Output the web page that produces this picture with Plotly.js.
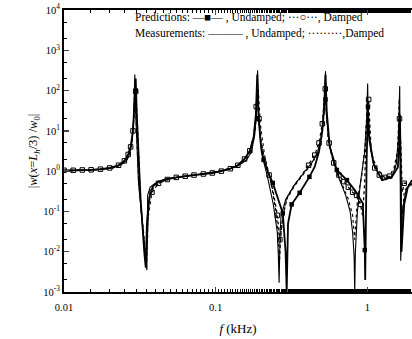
<!DOCTYPE html>
<html><head><meta charset="utf-8">
<script src="https://cdn.plot.ly/plotly-3.0.1.min.js"></script>
<style>html,body{margin:0;padding:0;background:#fff}#chart{width:412px;height:339px}</style>
</head><body><div id="chart"></div>
<script>
// Predictions, undamped (solid line, filled squares)
const predUndF = [0.0100,0.0115,0.0132,0.0151,0.0174,0.0200,0.0229,0.0250,0.0265,0.0275,0.0285,0.0292,0.0297,0.0302,0.0320,0.0338,0.0346,0.0352,0.0365,0.0385,0.042,0.048,0.055,0.063,0.072,0.083,0.095,0.109,0.125,0.140,0.155,0.168,0.178,0.184,0.188,0.192,0.198,0.207,0.222,0.238,0.258,0.277,0.289,0.294,0.300,0.317,0.358,0.415,0.450,0.480,0.505,0.520,0.530,0.540,0.565,0.629,0.733,0.826,0.933,0.962,0.968,0.975,0.99,1.01,1.03,1.10,1.25,1.45,1.59,1.62,1.64,1.66,1.68,1.75,1.85,1.97];
const predUndW = [1.05,1.05,1.07,1.08,1.12,1.2,1.4,1.8,2.6,4,10,45,200,25,0.2,0.01,0.004,0.05,0.22,0.42,0.55,0.64,0.7,0.75,0.8,0.85,0.9,1.0,1.15,1.4,2.0,3.2,7,25,250,20,5,1.9,0.9,0.51,0.2,0.09,0.01,0.001,0.05,0.15,0.29,0.72,1.3,3,10,45,250,30,4,1.07,0.6,0.34,0.16,0.011,0.002,0.1,2,40,6,1.5,0.6,0.72,1.26,4,25,1.5,0.01,0.15,0.4,0.6];
// Predictions, damped (dotted line, open squares)
const predDmpF = [0.0100,0.0115,0.0132,0.0151,0.0174,0.0200,0.0229,0.0250,0.0265,0.0275,0.0285,0.0292,0.0297,0.0302,0.0320,0.0340,0.0350,0.0360,0.0380,0.042,0.048,0.055,0.063,0.072,0.083,0.095,0.109,0.125,0.140,0.155,0.168,0.178,0.185,0.189,0.193,0.200,0.210,0.225,0.240,0.255,0.265,0.272,0.285,0.30,0.33,0.37,0.41,0.45,0.48,0.505,0.52,0.528,0.54,0.56,0.60,0.65,0.70,0.75,0.80,0.85,0.90,0.93,0.96,0.99,1.02,1.06,1.12,1.2,1.3,1.4,1.5,1.58,1.63,1.66,1.70,1.75,1.85,1.97];
const predDmpW = [1.05,1.05,1.07,1.08,1.12,1.2,1.4,1.8,2.6,4,10,40,95,30,0.15,0.012,0.01,0.08,0.3,0.5,0.62,0.7,0.75,0.8,0.85,0.9,1.0,1.15,1.4,2.0,3.2,7,25,100,20,5,2.0,0.8,0.3,0.08,0.02,0.04,0.12,0.25,0.45,0.8,1.4,2.5,5,15,60,110,20,5,1.6,0.8,0.55,0.4,0.3,0.25,0.15,0.08,0.5,20,60,3,1.2,0.8,0.7,0.75,1.2,3,20,5,0.3,0.5,0.5,0.45];
// Measurements, undamped (solid thin line)
const measUndF = [0.0100,0.012,0.015,0.018,0.021,0.024,0.026,0.027,0.028,0.0288,0.0293,0.0298,0.031,0.0335,0.0348,0.0352,0.0356,0.037,0.040,0.045,0.05,0.06,0.08,0.10,0.12,0.14,0.16,0.172,0.181,0.186,0.189,0.192,0.20,0.22,0.24,0.255,0.259,0.262,0.266,0.27,0.29,0.33,0.38,0.43,0.47,0.50,0.518,0.526,0.530,0.535,0.56,0.63,0.72,0.77,0.80,0.818,0.826,0.834,0.86,0.90,0.96,0.99,1.005,1.015,1.03,1.10,1.25,1.45,1.55,1.60,1.625,1.635,1.645,1.66,1.70,1.80,1.97];
const measUndW = [1.0,1.02,1.05,1.1,1.2,1.45,1.9,2.6,5,20,250,20,0.5,0.02,0.006,0.0035,0.25,0.4,0.5,0.6,0.66,0.72,0.82,0.95,1.1,1.35,1.9,3,8,30,320,25,3,0.7,0.15,0.03,0.008,0.0017,0.03,0.08,0.2,0.45,0.9,1.6,3,8,30,120,300,30,5,0.9,0.25,0.1,0.03,0.008,0.001,0.01,0.1,0.5,3,20,150,15,8,1.5,0.6,0.7,1.5,6,30,130,2,0.006,0.1,0.35,0.5];
// Measurements, damped (dotted thin line)
const measDmpF = [0.0100,0.012,0.015,0.018,0.021,0.024,0.026,0.027,0.028,0.0288,0.0293,0.0298,0.031,0.0335,0.0345,0.0352,0.0362,0.038,0.042,0.048,0.055,0.07,0.09,0.11,0.13,0.15,0.165,0.176,0.183,0.187,0.191,0.197,0.21,0.23,0.248,0.258,0.263,0.268,0.275,0.29,0.33,0.38,0.43,0.47,0.50,0.515,0.525,0.535,0.55,0.60,0.68,0.75,0.80,0.825,0.835,0.86,0.92,0.97,1.0,1.02,1.06,1.15,1.3,1.45,1.55,1.59,1.62,1.65,1.68,1.75,1.85,1.97];
const measDmpW = [1.0,1.02,1.05,1.1,1.2,1.45,1.9,2.6,5,18,120,20,0.6,0.03,0.008,0.006,0.15,0.35,0.5,0.6,0.68,0.78,0.9,1.05,1.25,1.6,2.4,4.5,12,50,110,15,2.5,0.6,0.12,0.03,0.005,0.02,0.06,0.18,0.42,0.85,1.5,2.8,7,20,80,60,6,1.5,0.5,0.2,0.08,0.02,0.04,0.2,0.8,5,50,20,3,1.2,0.7,0.7,1.4,4,60,8,0.05,0.3,0.45,0.5];
// Sparse marker positions
const predUndMarkF = [0.0297,0.188,0.207,0.238,0.277,0.317,0.358,0.415,0.53,0.629,0.733,0.962,1.01];
const predUndMarkW = [100,20,1.9,0.51,0.09,0.15,0.29,0.72,60,1.07,0.6,0.011,40];
const predDmpMarkF = [0.0100,0.0115,0.0132,0.0151,0.0174,0.0200,0.0229,0.0250,0.0265,0.0275,0.0285,0.0297,0.0380,0.042,0.048,0.055,0.063,0.072,0.083,0.095,0.109,0.125,0.140,0.155,0.168,0.185,0.193,0.225,0.255,0.265,0.41,0.45,0.48,0.505,0.528,0.56,0.60,0.65,0.70,0.75,0.80,0.85,0.90,1.02,1.12,1.2,1.3,1.4,1.63,1.75];
const predDmpMarkW = [1.05,1.05,1.07,1.08,1.12,1.2,1.4,1.8,2.6,4,10,95,0.3,0.5,0.62,0.7,0.75,0.8,0.85,0.9,1.0,1.15,1.4,2.0,3.2,40,20,0.8,0.08,0.02,1.4,2.5,5,15,110,5,1.6,0.8,0.55,0.4,0.3,0.25,0.15,60,1.2,0.8,0.7,0.75,20,0.5];

const serif = 'Liberation Serif, Times New Roman, serif';
const traces = [
  {x:measUndF,y:measUndW,mode:'lines',line:{color:'#000',width:1.1},hoverinfo:'skip'},
  {x:measDmpF,y:measDmpW,mode:'lines',line:{color:'#000',width:1.1,dash:'dot'},hoverinfo:'skip'},
  {x:predDmpF,y:predDmpW,mode:'lines',line:{color:'#000',width:1.3,dash:'dot'},hoverinfo:'skip'},
  {x:predUndF,y:predUndW,mode:'lines',line:{color:'#000',width:1.8},hoverinfo:'skip'},
  {x:predDmpMarkF,y:predDmpMarkW,mode:'markers',marker:{symbol:'square-open',size:4.5,color:'#000',line:{width:1,color:'#000'}},hoverinfo:'skip'},
  {x:predUndMarkF,y:predUndMarkW,mode:'markers',marker:{symbol:'square',size:4.5,color:'#000'},hoverinfo:'skip'}
];
const yTickVals = [1e-3,1e-2,1e-1,1,10,100,1000,10000];
const yTickText = ['10<sup>-3</sup>','10<sup>-2</sup>','10<sup>-1</sup>','10<sup>0</sup>','10<sup>1</sup>','10<sup>2</sup>','10<sup>3</sup>','10<sup>4</sup>'];
const xTickVals = [0.01,0.1,1];
const xTickText = ['0.01','0.1','1'];

const layout = {
  width:412,height:339,
  margin:{l:64,r:0,t:10,b:47},
  paper_bgcolor:'#fff',plot_bgcolor:'#fff',
  showlegend:false,
  font:{family:serif,color:'#000',size:10},
  xaxis:{type:'log',range:[-2,0.2945],tickvals:xTickVals,ticktext:xTickText,
    ticks:'inside',ticklen:5,tickwidth:1.5,showline:true,linewidth:2,linecolor:'#000',mirror:'ticks',
    showgrid:false,zeroline:false,tickfont:{family:serif,size:10.5},ticklabelstandoff:4,
    minor:{ticks:'inside',ticklen:3,tickwidth:1,tickcolor:'#000',showgrid:false},
    title:{text:'<i>f</i> (kHz)',font:{family:serif,size:13},standoff:12}},
  yaxis:{type:'log',range:[-3,4],tickvals:yTickVals,ticktext:yTickText,
    ticks:'inside',ticklen:5,tickwidth:1.5,showline:true,linewidth:2,linecolor:'#000',mirror:false,
    showgrid:false,zeroline:false,tickfont:{family:serif,size:10.5},
    minor:{ticks:'inside',ticklen:3,tickwidth:1,tickcolor:'#000',showgrid:false},
    title:{text:'|<i>w</i>(<i>x</i>=<i>L</i><sub><i>h</i></sub>/3) /<i>w</i><sub>0</sub>|',font:{family:serif,size:12.5},standoff:3}},
  annotations:[
    {xref:'paper',yref:'paper',x:0.198,y:0.972,xanchor:'left',yanchor:'middle',showarrow:false,
     text:'Predictions: —■— , Undamped; ···○···, Damped',font:{family:serif,size:11.5,color:'#000'}},
    {xref:'paper',yref:'paper',x:0.198,y:0.918,xanchor:'left',yanchor:'middle',showarrow:false,
     text:'Measurements: ——— , Undamped; ·········,Damped',font:{family:serif,size:11.5,color:'#000'}}
  ]
};
Plotly.newPlot('chart',traces,layout,{staticPlot:true,displayModeBar:false});
</script></body></html>
